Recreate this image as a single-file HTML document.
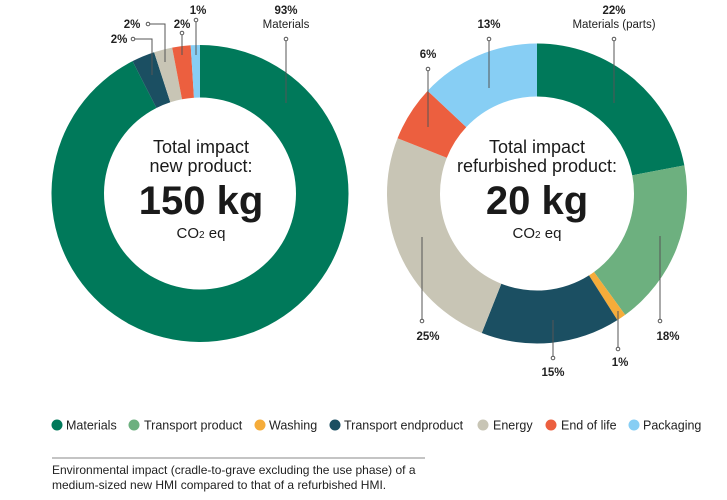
<!DOCTYPE html>
<html><head><meta charset="utf-8"><style>
html,body{margin:0;padding:0;background:#fff;}
svg{display:block;font-family:"Liberation Sans",sans-serif;}
</style></head><body>
<svg id="s" width="727" height="500" viewBox="0 0 727 500" xmlns="http://www.w3.org/2000/svg">
<g id="arcs"></g>
<g stroke="#555" stroke-width="1" fill="none">
<line x1="286" y1="41" x2="286" y2="103"/><circle cx="286" cy="39" r="1.8" fill="#fff"/>
<line x1="196" y1="22" x2="196" y2="55"/><circle cx="196" cy="20" r="1.8" fill="#fff"/>
<line x1="182" y1="35" x2="182" y2="55"/><circle cx="182" cy="33" r="1.8" fill="#fff"/>
<polyline points="150,24 165,24 165,62"/><circle cx="148" cy="24" r="1.8" fill="#fff"/>
<polyline points="135,39 152,39 152,75"/><circle cx="133" cy="39" r="1.8" fill="#fff"/>
<line x1="614" y1="41" x2="614" y2="103"/><circle cx="614" cy="39" r="1.8" fill="#fff"/>
<line x1="489" y1="41" x2="489" y2="88"/><circle cx="489" cy="39" r="1.8" fill="#fff"/>
<line x1="428" y1="71" x2="428" y2="127"/><circle cx="428" cy="69" r="1.8" fill="#fff"/>
<line x1="422" y1="237" x2="422" y2="319"/><circle cx="422" cy="321" r="1.8" fill="#fff"/>
<line x1="553" y1="320" x2="553" y2="356"/><circle cx="553" cy="358" r="1.8" fill="#fff"/>
<line x1="618" y1="311" x2="618" y2="347"/><circle cx="618" cy="349" r="1.8" fill="#fff"/>
<line x1="660" y1="236" x2="660" y2="319"/><circle cx="660" cy="321" r="1.8" fill="#fff"/>
</g>
<g font-size="11.5" fill="#222" text-anchor="middle">
<text x="286" y="14" font-weight="bold">93%</text><text x="286" y="28">Materials</text>
<text x="198" y="14" font-weight="bold">1%</text>
<text x="182" y="28" font-weight="bold">2%</text>
<text x="132" y="28" font-weight="bold">2%</text>
<text x="119" y="43" font-weight="bold">2%</text>
<text x="614" y="14" font-weight="bold">22%</text><text x="614" y="28">Materials (parts)</text>
<text x="489" y="28" font-weight="bold">13%</text>
<text x="428" y="58" font-weight="bold">6%</text>
<text x="428" y="340" font-weight="bold">25%</text>
<text x="553" y="376" font-weight="bold">15%</text>
<text x="620" y="366" font-weight="bold">1%</text>
<text x="668" y="340" font-weight="bold">18%</text>
</g>
<g fill="#1a1a1a" text-anchor="middle">
<text x="201" y="153" font-size="18">Total impact</text>
<text x="201" y="172" font-size="18">new product:</text>
<text x="201" y="214" font-size="40" font-weight="bold">150 kg</text>
<text x="201" y="238" font-size="15">CO<tspan font-size="10">2</tspan> eq</text>
<text x="537" y="153" font-size="18">Total impact</text>
<text x="537" y="172" font-size="18">refurbished product:</text>
<text x="537" y="214" font-size="40" font-weight="bold">20 kg</text>
<text x="537" y="238" font-size="15">CO<tspan font-size="10">2</tspan> eq</text>
</g>
<g font-size="12.5" fill="#222">
<circle cx="57" cy="425" r="5.5" fill="#00795a"/><text x="66" y="429.5">Materials</text>
<circle cx="134" cy="425" r="5.5" fill="#6db07f"/><text x="144" y="429.5">Transport product</text>
<circle cx="260" cy="425" r="5.5" fill="#f5ac3a"/><text x="269" y="429.5">Washing</text>
<circle cx="335" cy="425" r="5.5" fill="#1b4f62"/><text x="344" y="429.5">Transport endproduct</text>
<circle cx="483" cy="425" r="5.5" fill="#c8c5b5"/><text x="493" y="429.5">Energy</text>
<circle cx="551" cy="425" r="5.5" fill="#ec5f3f"/><text x="561" y="429.5">End of life</text>
<circle cx="634" cy="425" r="5.5" fill="#87cef4"/><text x="643" y="429.5">Packaging</text>
</g>
<line x1="52" y1="458" x2="425" y2="458" stroke="#888" stroke-width="1"/>
<g font-size="12" fill="#222">
<text x="52" y="474">Environmental impact (cradle-to-grave excluding the use phase) of a</text>
<text x="52" y="489">medium-sized new HMI compared to that of a refurbished HMI.</text>
</g>
</svg>
<script>
(function(){
var g=document.getElementById('arcs');
function donut(cx,cy,R,r,segs){
 var a=0;
 segs.forEach(function(s){
  var a0=a*2*Math.PI/100, a1=(a+s[0])*2*Math.PI/100; a+=s[0];
  function p(rad,t){return [cx+rad*Math.sin(t),cy-rad*Math.cos(t)];}
  var large=(a1-a0)>Math.PI?1:0;
  var A=p(R,a0),B=p(R,a1),C=p(r,a1),D=p(r,a0);
  var d='M'+A+' A'+R+','+R+' 0 '+large+' 1 '+B+' L'+C+' A'+r+','+r+' 0 '+large+' 0 '+D+' Z';
  var el=document.createElementNS('http://www.w3.org/2000/svg','path');
  el.setAttribute('d',d);el.setAttribute('fill',s[1]);g.appendChild(el);
 });
}
donut(200,193.5,148.5,96,[[92.5,'#00795a'],[2.5,'#1b4f62'],[2,'#c8c5b5'],[2,'#ec5f3f'],[1,'#87cef4']]);
donut(537,193.5,150,97,[[22,'#00795a'],[18,'#6db07f'],[1,'#f5ac3a'],[15,'#1b4f62'],[25,'#c8c5b5'],[6,'#ec5f3f'],[13,'#87cef4']]);
})();
</script>
</body></html>
